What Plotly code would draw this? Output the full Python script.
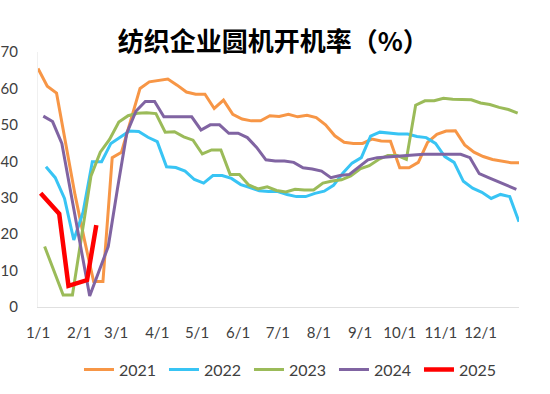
import pandas as pd
import plotly.graph_objects as go

# ---- data (weekly readings, %) ----
years = ["2021", "2022", "2023", "2024", "2025"]
start_dates = ["2021-01-01", "2022-01-07", "2023-01-06", "2024-01-05", "2025-01-03"]

v2021 = [65.5, 60.6, 58.7, 44.4, 30.7, 18.5, 7.0, 7.0, 41.0, 42.5, 51.5, 60.0, 61.8, 62.3,
         62.6, 60.9, 59.0, 58.4, 58.4, 54.5, 56.8, 52.9, 51.6, 51.1, 51.1, 52.5, 52.3, 52.9,
         52.2, 52.6, 52.0, 50.0, 47.0, 45.2, 44.9, 44.9, 46.1, 45.6, 45.5, 38.2, 38.2, 39.7,
         45.2, 47.4, 48.3, 48.4, 44.5, 42.5, 41.3, 40.5, 40.1, 39.6, 39.6]
v2022 = [38.5, 35.5, 29.8, 18.4, 26.0, 39.9, 39.9, 44.9, 46.6, 48.3, 48.2, 46.6, 45.4, 38.5,
         38.3, 37.3, 35.0, 34.0, 36.1, 36.1, 35.3, 33.6, 32.8, 31.9, 31.7, 31.7, 30.9, 30.3,
         30.3, 31.2, 31.8, 33.4, 36.7, 39.5, 41.0, 46.9, 48.0, 47.7, 47.5, 47.5, 46.8, 46.5,
         44.9, 41.3, 39.7, 34.5, 32.6, 31.5, 29.8, 30.9, 30.3, 23.4]
v2023 = [16.6, 9.9, 3.3, 3.3, 19.2, 36.0, 42.5, 46.0, 50.8, 52.5, 53.2, 53.3, 53.1, 48.0,
         48.1, 46.7, 45.8, 42.0, 43.1, 43.1, 36.4, 36.4, 33.5, 32.4, 33.0, 32.0, 31.6, 32.3,
         32.1, 32.1, 34.0, 34.6, 34.9, 36.0, 37.9, 38.8, 40.5, 41.6, 41.6, 40.5, 55.4, 56.6,
         56.6, 57.3, 57.0, 56.9, 56.9, 56.0, 55.6, 54.8, 54.2, 53.2]
v2024 = [52.4, 50.9, 44.9, 31.0, 17.0, 3.0, 9.8, 16.6, 32.5, 47.7, 53.8, 56.4, 56.4, 52.2,
         52.2, 52.2, 52.2, 48.6, 50.0, 50.0, 47.7, 47.7, 46.5, 43.8, 40.4, 40.1, 40.1, 39.7,
         38.2, 37.9, 37.3, 35.5, 36.1, 36.4, 38.5, 40.4, 41.0, 41.2, 41.3, 41.5, 41.8, 41.9,
         41.9, 41.9, 42.0, 41.9, 41.0, 36.6, 35.5, 34.5, 33.3, 32.3]
v2025 = [31.2, 28.6, 25.6, 5.8, 6.6, 7.4, 22.5]

series_values = [v2021, v2022, v2023, v2024, v2025]
colors = ["#F79646", "#38C4F4", "#9BBB59", "#8064A2", "#FF0000"]
widths = [3, 3, 3, 3, 4.5]

month_days = [0, 31, 59, 90, 120, 151, 181, 212, 243, 273, 304, 334]
month_labels = ["1/1", "2/1", "3/1", "4/1", "5/1", "6/1", "7/1", "8/1", "9/1", "10/1", "11/1", "12/1"]
y_ticks = [0, 10, 20, 30, 40, 50, 60, 70]

title_text = "纺织企业圆机开机率（%）"

fig = go.Figure()
for name, start, vals, col, w in zip(years, start_dates, series_values, colors, widths):
    dates = pd.date_range(start, periods=len(vals), freq="7D")
    year0 = pd.Timestamp(f"{name}-01-01")
    xdays = [(d - year0).days for d in dates]
    fig.add_trace(go.Scatter(x=xdays, y=vals, mode="lines", name=name,
                             line=dict(color=col, width=w)))

txt = "#404040"
fig.update_layout(
    width=550, height=394,
    margin=dict(l=38, r=31, t=52, b=87, autoexpand=False),
    paper_bgcolor="white", plot_bgcolor="white",
    font=dict(family="Lato, 'Noto Sans', sans-serif", size=15, color=txt),
    title=dict(text="<b>" + title_text + "</b>", x=0.497, xanchor="center",
               y=1 - 42 / 394, yanchor="middle",
               font=dict(family="'Noto Sans CJK SC'", size=26, color="#000000")),
    showlegend=True,
    legend=dict(orientation="h", x=0.527, xanchor="center", y=-0.245, yanchor="middle",
                font=dict(size=16, color=txt), itemwidth=30, tracegroupgap=0,
                entrywidth=40, entrywidthmode="pixels",
                bgcolor="rgba(0,0,0,0)"),
    xaxis=dict(range=[0, 363], tickmode="array", tickvals=month_days, ticktext=month_labels,
               showgrid=False, zeroline=False, showline=True, linecolor="#E0E0E0",
               linewidth=1, ticks="", ticklabelstandoff=12, automargin=False),
    yaxis=dict(range=[0, 70], tickmode="array", tickvals=y_ticks, showgrid=False,
               zeroline=False, showline=True, linecolor="#F0F0F0", linewidth=1,
               ticks="", ticklabelstandoff=16, automargin=False),
)

fig.write_html("out.html", config={"displayModeBar": False},
               post_script="document.body.style.margin='0';document.body.style.overflow='hidden';")
